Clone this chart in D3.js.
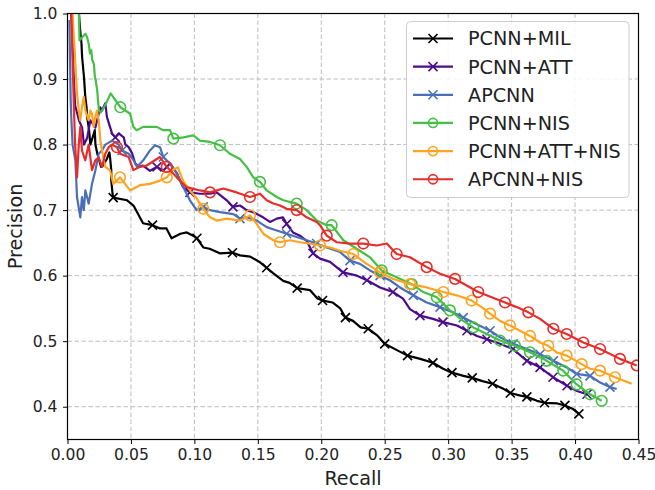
<!DOCTYPE html>
<html>
<head>
<meta charset="utf-8">
<script src="https://cdn.jsdelivr.net/npm/d3@7"></script>
<style>
  html, body { margin: 0; padding: 0; background: #fff; }
  svg { display: block; font-family: "DejaVu Sans", sans-serif; }
</style>
</head>
<body>
<svg id="chart" width="655" height="490"></svg>
<script>
// Precision / recall curves, [recall, precision]
const pcnnMil = [[0.009,1.0],[0.010,0.974],[0.011,0.955],[0.0115,0.934],[0.0125,0.913],[0.013,0.903],[0.0135,0.888],[0.014,0.873],[0.015,0.857],[0.0155,0.842],[0.017,0.822],[0.018,0.80],[0.020,0.812],[0.0215,0.822],[0.022,0.80],[0.0235,0.786],[0.025,0.776],[0.0265,0.766],[0.028,0.768],[0.031,0.778],[0.033,0.788],[0.0335,0.781],[0.0345,0.761],[0.0345,0.745],[0.0355,0.725],[0.036,0.719],[0.047,0.715],[0.052,0.707],[0.057,0.689],[0.0595,0.680],[0.067,0.677],[0.073,0.672],[0.078,0.672],[0.082,0.657],[0.089,0.664],[0.094,0.666],[0.099,0.661],[0.102,0.657],[0.107,0.643],[0.112,0.641],[0.120,0.634],[0.130,0.635],[0.136,0.631],[0.144,0.629],[0.152,0.620],[0.157,0.612],[0.162,0.604],[0.170,0.592],[0.175,0.589],[0.181,0.581],[0.191,0.578],[0.197,0.565],[0.201,0.562],[0.209,0.559],[0.215,0.550],[0.219,0.536],[0.225,0.531],[0.231,0.521],[0.237,0.519],[0.244,0.509],[0.250,0.496],[0.260,0.486],[0.268,0.478],[0.278,0.473],[0.288,0.467],[0.296,0.458],[0.303,0.452],[0.312,0.447],[0.319,0.444],[0.327,0.439],[0.335,0.435],[0.343,0.428],[0.349,0.421],[0.357,0.417],[0.362,0.415],[0.370,0.409],[0.376,0.406],[0.386,0.405],[0.392,0.402],[0.398,0.397],[0.403,0.389]];

const pcnnAtt = [[0.003,1.0],[0.004,0.95],[0.005,0.90],[0.006,0.86],[0.009,0.837],[0.0115,0.826],[0.013,0.80],[0.0155,0.81],[0.018,0.837],[0.022,0.826],[0.0246,0.847],[0.0258,0.857],[0.0272,0.852],[0.0298,0.863],[0.0311,0.842],[0.0351,0.817],[0.0377,0.811],[0.0403,0.817],[0.0443,0.811],[0.0456,0.80],[0.0482,0.796],[0.0508,0.787],[0.0534,0.771],[0.0561,0.766],[0.0595,0.768],[0.065,0.760],[0.0705,0.766],[0.0753,0.760],[0.0808,0.771],[0.0863,0.756],[0.091,0.735],[0.0965,0.727],[0.1044,0.725],[0.1123,0.725],[0.1176,0.727],[0.1255,0.715],[0.1304,0.705],[0.1359,0.707],[0.1412,0.70],[0.1462,0.697],[0.1541,0.689],[0.1596,0.682],[0.1649,0.687],[0.1698,0.689],[0.1727,0.679],[0.1777,0.666],[0.1832,0.661],[0.1885,0.653],[0.1935,0.634],[0.199,0.626],[0.2069,0.621],[0.2171,0.605],[0.2281,0.60],[0.236,0.593],[0.2463,0.582],[0.2565,0.575],[0.2644,0.565],[0.2699,0.549],[0.2778,0.539],[0.288,0.534],[0.2959,0.529],[0.3069,0.524],[0.3148,0.516],[0.3227,0.508],[0.3306,0.503],[0.3409,0.496],[0.3511,0.488],[0.3621,0.470],[0.3724,0.46],[0.3826,0.445],[0.3937,0.432],[0.4015,0.424],[0.4094,0.419]];

const apcnn = [[0.0015,0.99],[0.002,0.93],[0.0025,0.87],[0.003,0.84],[0.004,0.80],[0.0062,0.776],[0.0075,0.72],[0.0101,0.689],[0.0114,0.72],[0.0128,0.70],[0.0141,0.73],[0.0167,0.71],[0.0193,0.74],[0.0219,0.76],[0.0246,0.786],[0.0272,0.791],[0.0298,0.80],[0.0351,0.806],[0.0403,0.80],[0.043,0.791],[0.0482,0.786],[0.0521,0.776],[0.0548,0.766],[0.0597,0.776],[0.065,0.791],[0.069,0.799],[0.0729,0.796],[0.0755,0.781],[0.0808,0.771],[0.0861,0.756],[0.0913,0.735],[0.0965,0.715],[0.1018,0.70],[0.107,0.705],[0.1123,0.70],[0.1202,0.697],[0.1307,0.694],[0.1359,0.687],[0.1412,0.689],[0.1491,0.684],[0.157,0.674],[0.1649,0.669],[0.1727,0.664],[0.1806,0.659],[0.1885,0.654],[0.1964,0.649],[0.2043,0.643],[0.2148,0.636],[0.2226,0.623],[0.2305,0.618],[0.2384,0.608],[0.2463,0.60],[0.2541,0.593],[0.262,0.582],[0.2725,0.57],[0.2831,0.559],[0.2936,0.552],[0.304,0.544],[0.3119,0.536],[0.3225,0.526],[0.333,0.516],[0.3408,0.506],[0.3513,0.496],[0.3619,0.488],[0.3724,0.48],[0.3829,0.47],[0.3934,0.46],[0.4013,0.45],[0.4118,0.447],[0.4197,0.437],[0.4275,0.43],[0.4328,0.427]];

const pcnnNis = [[0.009,1.0],[0.0095,0.959],[0.0141,0.969],[0.0154,0.964],[0.0167,0.954],[0.0177,0.939],[0.0187,0.944],[0.0195,0.929],[0.0208,0.923],[0.0216,0.903],[0.0222,0.898],[0.0234,0.883],[0.0240,0.868],[0.0248,0.852],[0.0262,0.849],[0.0288,0.857],[0.0314,0.867],[0.0340,0.878],[0.0377,0.868],[0.0416,0.857],[0.0456,0.852],[0.0493,0.847],[0.0519,0.827],[0.0545,0.822],[0.0597,0.827],[0.065,0.827],[0.0703,0.827],[0.0755,0.822],[0.0808,0.822],[0.0834,0.809],[0.0913,0.811],[0.0991,0.814],[0.1044,0.806],[0.1123,0.804],[0.1202,0.799],[0.128,0.786],[0.1359,0.778],[0.1412,0.766],[0.1464,0.75],[0.1517,0.743],[0.157,0.73],[0.1649,0.72],[0.1701,0.715],[0.1806,0.71],[0.1885,0.70],[0.1964,0.684],[0.2043,0.677],[0.2082,0.677],[0.2174,0.654],[0.2279,0.641],[0.2384,0.628],[0.2476,0.608],[0.2568,0.60],[0.2646,0.593],[0.2713,0.587],[0.2804,0.575],[0.291,0.567],[0.3014,0.547],[0.3119,0.531],[0.3198,0.521],[0.3304,0.511],[0.3408,0.501],[0.3527,0.493],[0.3645,0.483],[0.3777,0.47],[0.3907,0.455],[0.4013,0.434],[0.4118,0.419],[0.421,0.409]];

const pcnnAttNis = [[0.004,1.0],[0.006,0.93],[0.0075,0.878],[0.0089,0.852],[0.0101,0.837],[0.0114,0.857],[0.0128,0.873],[0.0141,0.852],[0.0167,0.837],[0.018,0.852],[0.0193,0.847],[0.0206,0.827],[0.0219,0.842],[0.0232,0.852],[0.0246,0.837],[0.0259,0.806],[0.0272,0.791],[0.0298,0.766],[0.0335,0.761],[0.0361,0.74],[0.0414,0.75],[0.0493,0.73],[0.0571,0.738],[0.065,0.74],[0.0729,0.745],[0.0782,0.75],[0.0834,0.762],[0.087,0.765],[0.091,0.745],[0.0965,0.73],[0.1018,0.718],[0.107,0.702],[0.1123,0.689],[0.1176,0.684],[0.1255,0.687],[0.1359,0.684],[0.1438,0.692],[0.1491,0.679],[0.1543,0.664],[0.1622,0.654],[0.1675,0.651],[0.1753,0.654],[0.1832,0.651],[0.1911,0.649],[0.199,0.646],[0.2069,0.643],[0.2148,0.638],[0.2252,0.633],[0.2358,0.618],[0.2463,0.605],[0.2568,0.595],[0.2699,0.587],[0.2831,0.582],[0.2962,0.575],[0.3067,0.57],[0.3185,0.562],[0.3264,0.552],[0.333,0.542],[0.3408,0.531],[0.3487,0.524],[0.3566,0.516],[0.3645,0.508],[0.3724,0.498],[0.3789,0.493],[0.3855,0.483],[0.3934,0.478],[0.4052,0.465],[0.4118,0.458],[0.4197,0.455],[0.4315,0.445],[0.438,0.44],[0.4446,0.435]];

const apcnnNis = [[0.003,1.0],[0.004,0.93],[0.005,0.86],[0.006,0.80],[0.0075,0.75],[0.0089,0.80],[0.0101,0.827],[0.0114,0.791],[0.014,0.776],[0.0167,0.80],[0.0193,0.761],[0.0219,0.776],[0.0246,0.78],[0.0272,0.766],[0.0298,0.786],[0.0325,0.796],[0.0351,0.80],[0.039,0.796],[0.0414,0.786],[0.0482,0.781],[0.0519,0.761],[0.0571,0.766],[0.0624,0.768],[0.0729,0.781],[0.0782,0.766],[0.0861,0.75],[0.0939,0.735],[0.1044,0.73],[0.1123,0.727],[0.1228,0.733],[0.1333,0.727],[0.1438,0.72],[0.1517,0.725],[0.157,0.715],[0.1622,0.71],[0.1675,0.707],[0.1727,0.702],[0.1806,0.70],[0.1885,0.689],[0.1964,0.682],[0.199,0.677],[0.2043,0.661],[0.2122,0.651],[0.2226,0.649],[0.2331,0.649],[0.2437,0.646],[0.2516,0.649],[0.2594,0.633],[0.2699,0.628],[0.2831,0.613],[0.2936,0.603],[0.3054,0.595],[0.3146,0.585],[0.3237,0.575],[0.3343,0.567],[0.3448,0.559],[0.354,0.552],[0.3632,0.544],[0.3724,0.534],[0.3829,0.519],[0.3934,0.511],[0.4065,0.498],[0.4197,0.488],[0.4354,0.473],[0.4486,0.463]];

// Recall positions where each curve carries a marker
const milMarks = [0.036,0.069,0.102,0.130,0.157,0.181,0.201,0.219,0.237,0.250,0.268,0.288,0.303,0.319,0.335,0.349,0.362,0.376,0.392,0.403];
const attMarks = [0.038,0.068,0.094,0.130,0.173,0.195,0.217,0.240,0.260,0.277,0.296,0.315,0.329,0.349,0.359,0.370,0.386,0.396,0.406];
const apcnnMarks = [0.045,0.075,0.105,0.138,0.172,0.200,0.225,0.250,0.270,0.290,0.310,0.330,0.350,0.370,0.385,0.400,0.415,0.428];
const nisMarks = [0.0427,0.0824,0.1226,0.1525,0.1817,0.2082,0.2476,0.2713,0.291,0.3054,0.3198,0.3369,0.3527,0.3669,0.3826,0.3921,0.4013,0.4102,0.421];
const attNisMarks = [0.0388,0.0768,0.1084,0.1425,0.166,0.199,0.2266,0.2463,0.2713,0.2949,0.3185,0.333,0.3487,0.3645,0.3789,0.392,0.4052,0.4183,0.4315];
const apcnnNisMarks = [0.040,0.0782,0.111,0.1464,0.1793,0.2029,0.2319,0.2594,0.2817,0.3054,0.3237,0.3434,0.3632,0.3777,0.3934,0.4078,0.4222,0.4354,0.4486];

const seriesNames = ["PCNN+MIL", "PCNN+ATT", "APCNN", "PCNN+NIS", "PCNN+ATT+NIS", "APCNN+NIS"];
const seriesData = [pcnnMil, pcnnAtt, apcnn, pcnnNis, pcnnAttNis, apcnnNis];
const seriesMarks = [milMarks, attMarks, apcnnMarks, nisMarks, attNisMarks, apcnnNisMarks];
const seriesColors = ["#000000", "#4b0c8c", "#4a6fb8", "#44c044", "#ffa420", "#e62d2a"];
const seriesSymbols = ["x", "x", "x", "o", "o", "o"];

const xTicks = [0.00, 0.05, 0.10, 0.15, 0.20, 0.25, 0.30, 0.35, 0.40, 0.45];
const yTicks = [0.4, 0.5, 0.6, 0.7, 0.8, 0.9, 1.0];

(function () {
  const svg = d3.select("#chart");
  const plotL = 67.5, plotR = 638.5, plotT = 13.5, plotB = 439.5;

  const x = d3.scaleLinear().domain([0, 0.45]).range([plotL, plotR]);
  const y = d3.scaleLinear().domain([0.35, 1.0]).range([plotB, plotT]);

  svg.append("defs").append("clipPath").attr("id", "plotClip")
    .append("rect").attr("x", plotL).attr("y", plotT)
    .attr("width", plotR - plotL).attr("height", plotB - plotT);

  // grid
  const grid = svg.append("g");
  grid.selectAll(".gx").data(xTicks).join("line")
    .attr("x1", d => x(d)).attr("x2", d => x(d))
    .attr("y1", plotT).attr("y2", plotB)
    .attr("stroke", "#bdbdbd").attr("stroke-width", 1).attr("stroke-dasharray", "4.5,2.5");
  grid.selectAll(".gy").data(yTicks).join("line")
    .attr("x1", plotL).attr("x2", plotR)
    .attr("y1", d => y(d)).attr("y2", d => y(d))
    .attr("stroke", "#bdbdbd").attr("stroke-width", 1).attr("stroke-dasharray", "4.5,2.5");

  // curves
  const line = d3.line().x(d => x(d[0])).y(d => y(d[1]));
  const plot = svg.append("g").attr("clip-path", "url(#plotClip)");
  const bis = d3.bisector(d => d[0]);
  const nearest = (data, r) => data[bis.center(data, r)];

  function drawSymbol(g, kind, cx, cy, color, size) {
    if (kind === "x") {
      const s = size;
      g.append("path")
        .attr("d", `M${cx - s},${cy - s}L${cx + s},${cy + s}M${cx - s},${cy + s}L${cx + s},${cy - s}`)
        .attr("stroke", color).attr("stroke-width", 1.6).attr("fill", "none");
    } else {
      g.append("circle").attr("cx", cx).attr("cy", cy).attr("r", size + 0.8)
        .attr("stroke", color).attr("stroke-width", 1.6).attr("fill", "none");
    }
  }

  seriesData.forEach((data, k) => {
    plot.append("path").datum(data)
      .attr("d", line)
      .attr("fill", "none")
      .attr("stroke", seriesColors[k])
      .attr("stroke-width", 2.2)
      .attr("stroke-linejoin", "round");
    const mg = plot.append("g");
    seriesMarks[k].forEach(r => {
      const p = nearest(data, r);
      drawSymbol(mg, seriesSymbols[k], x(p[0]), y(p[1]), seriesColors[k], 4.5);
    });
  });

  // axes
  const fmtX = d3.format(".2f"), fmtY = d3.format(".1f");
  const xAxis = svg.append("g").attr("transform", `translate(0,${plotB})`)
    .call(d3.axisBottom(x).tickValues(xTicks).tickFormat(fmtX).tickSize(4.5).tickPadding(5));
  const yAxis = svg.append("g").attr("transform", `translate(${plotL},0)`)
    .call(d3.axisLeft(y).tickValues(yTicks).tickFormat(fmtY).tickSize(4.5).tickPadding(5.5));
  [xAxis, yAxis].forEach(a => {
    a.select(".domain").remove();
    a.selectAll(".tick line").attr("stroke", "#000").attr("stroke-width", 1);
    a.selectAll(".tick text").attr("fill", "#222").style("font-size", "15.6px")
      .style("font-family", "DejaVu Sans, sans-serif");
  });

  // frame
  svg.append("rect").attr("x", plotL).attr("y", plotT)
    .attr("width", plotR - plotL).attr("height", plotB - plotT)
    .attr("fill", "none").attr("stroke", "#000").attr("stroke-width", 1.2);

  // axis titles
  svg.append("text").attr("x", (plotL + plotR) / 2).attr("y", 484.5)
    .attr("text-anchor", "middle").attr("fill", "#222")
    .style("font-size", "19.2px").text("Recall");
  svg.append("text")
    .attr("transform", `translate(21.5,${(plotT + plotB) / 2}) rotate(-90)`)
    .attr("text-anchor", "middle").attr("fill", "#222")
    .style("font-size", "19.2px").text("Precision");

  // legend
  const lg = svg.append("g");
  lg.append("rect").attr("x", 406.5).attr("y", 21.5).attr("width", 222.5).attr("height", 176)
    .attr("rx", 4).attr("fill", "#fff").attr("fill-opacity", 0.85)
    .attr("stroke", "#cccccc").attr("stroke-width", 1);
  seriesNames.forEach((name, k) => {
    const ry = 38.5 + k * 28.15;
    lg.append("line").attr("x1", 413).attr("x2", 453).attr("y1", ry).attr("y2", ry)
      .attr("stroke", seriesColors[k]).attr("stroke-width", 2.2);
    drawSymbol(lg, seriesSymbols[k], 433, ry, seriesColors[k], seriesSymbols[k] === "x" ? 4.5 : 3.8);
    lg.append("text").attr("x", 468).attr("y", ry).attr("dy", "0.36em")
      .attr("fill", "#222").style("font-size", "19.2px").text(name);
  });
})();
</script>
</body>
</html>
